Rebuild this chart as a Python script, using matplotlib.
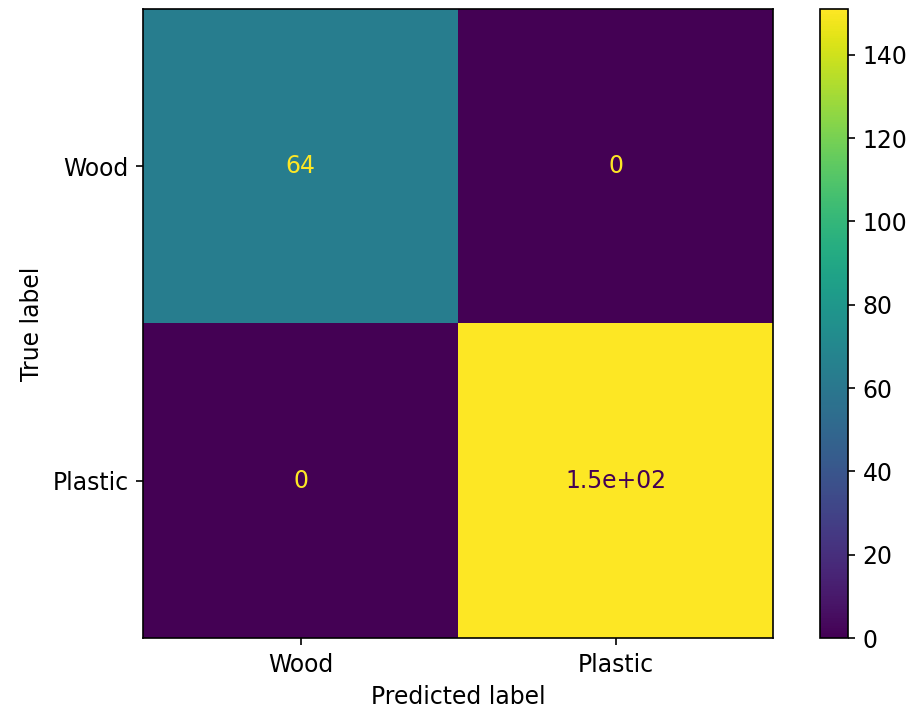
import numpy as np
import matplotlib
matplotlib.use('Agg')
import matplotlib.pyplot as plt

labels = ['Wood', 'Plastic']
cm = np.array([[64, 0],
               [0, 151]])

plt.rcParams['font.size'] = 11.3

fig = plt.figure(figsize=(911/150, 715/150), dpi=150)
ax = fig.add_axes([143/911, 1-638/715, 630/911, 629/715])
cax = fig.add_axes([820/911, 1-638/715, 28/911, 629/715])

cmap = plt.get_cmap('viridis')
im = ax.imshow(cm, cmap=cmap, interpolation='nearest', aspect='auto')
fig.colorbar(im, cax=cax)

cmin, cmax = cmap(0), cmap(1.0)
thresh = (cm.max() + cm.min()) / 2.0
for i in range(cm.shape[0]):
    for j in range(cm.shape[1]):
        color = cmax if cm[i, j] < thresh else cmin
        ax.text(j, i, format(cm[i, j], '.2g'), ha='center', va='center', color=color)

ax.set_xticks(range(len(labels)), labels)
ax.set_yticks(range(len(labels)), labels)
ax.set_xlabel('Predicted label')
ax.set_ylabel('True label')

fig.savefig('out.png', dpi=150)
